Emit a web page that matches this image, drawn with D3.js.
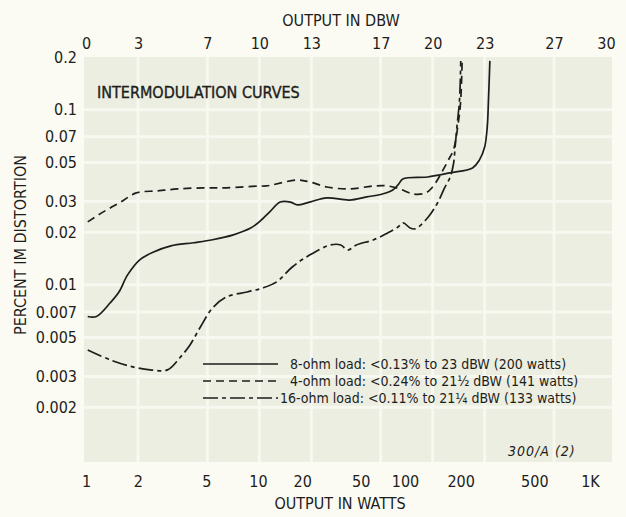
<!DOCTYPE html>
<html>
<head>
<meta charset="utf-8">
<script src="https://cdn.jsdelivr.net/npm/d3@7"></script>
<style>
  body { margin: 0; background: #fbfbf4; }
  svg text { font-family: "Liberation Sans Narrow", "DejaVu Sans Condensed", "Roboto Condensed", sans-serif; fill: #1d1d1b; }
</style>
</head>
<body>
<div id="chart"></div>
<script>
const width = 626;
const height = 517;

// top axis: output in dBW, bottom axis: output in watts
const dbwTicks = [0, 3, 7, 10, 13, 17, 20, 23, 27, 30];
const wattTicks = [1, 2, 5, 10, 20, 50, 100, 200, 500, 1000];
const wattLabels = ["1", "2", "5", "10", "20", "50", "100", "200", "500", "1K"];
const pctTicks = [0.2, 0.1, 0.07, 0.05, 0.03, 0.02, 0.01, 0.007, 0.005, 0.003, 0.002];

// curves: [output dBW, percent IM distortion]
const ohm8 = [[0.1, 0.0066], [0.6, 0.0066], [1.4, 0.0079], [1.9, 0.0091], [2.4, 0.0114], [3.1, 0.0139],
  [3.9, 0.0154], [4.9, 0.0167], [6.2, 0.0174], [7.3, 0.0181], [8.5, 0.0193], [9.5, 0.0211], [10.0, 0.0229],
  [10.6, 0.0261], [11.2, 0.0297], [11.8, 0.0297], [12.2, 0.0286], [12.9, 0.0297], [13.9, 0.0314],
  [15.2, 0.0305], [16.2, 0.0318], [17.1, 0.0330], [17.7, 0.0348], [18.0, 0.0372], [18.3, 0.0403],
  [19.7, 0.0413], [21.0, 0.0436], [22.3, 0.0465], [22.7, 0.0517], [23.0, 0.0613], [23.15, 0.080],
  [23.22, 0.114], [23.3, 0.19]];
const ohm4 = [[0.1, 0.0229], [1.0, 0.0261], [2.0, 0.0297], [2.9, 0.0335], [4.1, 0.0344], [5.3, 0.0353],
  [6.8, 0.0358], [8.1, 0.0358], [10.0, 0.0367], [10.4, 0.0367], [12.2, 0.0397], [12.9, 0.0387],
  [13.9, 0.0362], [15.2, 0.0353], [16.6, 0.0367], [17.4, 0.0367], [18.1, 0.0353], [18.9, 0.0330],
  [19.6, 0.0335], [20.0, 0.0362], [20.6, 0.0453], [21.0, 0.0537], [21.2, 0.0589], [21.5, 0.0874],
  [21.62, 0.114], [21.7, 0.19]];
const ohm16 = [[0.1, 0.00425], [1.4, 0.00373], [2.7, 0.0034], [3.7, 0.00327], [4.7, 0.00327], [5.4, 0.00382],
  [6.0, 0.00454], [6.6, 0.00575], [7.3, 0.00738], [8.1, 0.00853], [9.3, 0.00911], [10.2, 0.0096],
  [11.0, 0.0104], [11.9, 0.01265], [12.9, 0.0148], [14.1, 0.0169], [14.7, 0.0169], [15.1, 0.0158],
  [15.6, 0.0169], [16.6, 0.0181], [17.4, 0.0198], [18.0, 0.0214], [18.3, 0.0226], [18.7, 0.0211],
  [19.0, 0.0209], [19.7, 0.0241], [20.25, 0.0290], [20.7, 0.0360], [21.0, 0.0410], [21.2, 0.0490],
  [21.3, 0.062], [21.4, 0.080], [21.55, 0.114], [21.62, 0.19]];

const series = [
  { name: "8-ohm", data: ohm8, dash: null, label: "8-ohm load: <0.13% to 23 dBW (200 watts)" },
  { name: "4-ohm", data: ohm4, dash: "8,5", label: "4-ohm load: <0.24% to 21½ dBW (141 watts)" },
  { name: "16-ohm", data: ohm16, dash: "15,4,4,4", label: "16-ohm load: <0.11% to 21¼ dBW (133 watts)" }
];

const plot = { left: 84, right: 612, top: 57, bottom: 462 };

const x = d3.scaleLinear().domain([0, 30]).range([86, 606]);
const xw = d3.scaleLog().domain([1, 10, 100, 1000]).range([86, 258, 405, 590]);
const y = d3.scaleLog().domain([0.001, 0.2]).range([460, 57]);

const svg = d3.select("#chart")
  .append("svg")
  .attr("width", width)
  .attr("height", height);

svg.append("rect")
  .attr("x", plot.left).attr("y", plot.top)
  .attr("width", plot.right - plot.left).attr("height", plot.bottom - plot.top)
  .attr("fill", "#eceee1");

// faint graph-paper lines
const grid = svg.append("g").attr("stroke", "#f7f8f0").attr("stroke-width", 3);
grid.selectAll("line.v")
  .data(dbwTicks.slice(1, -1))
  .enter().append("line")
  .attr("x1", (d) => x(d)).attr("x2", (d) => x(d))
  .attr("y1", plot.top).attr("y2", plot.bottom);
grid.selectAll("line.h")
  .data(pctTicks.slice(1))
  .enter().append("line")
  .attr("x1", plot.left).attr("x2", plot.right)
  .attr("y1", (d) => y(d)).attr("y2", (d) => y(d));

// axes (labels only, no domain lines)
const topAxis = svg.append("g")
  .attr("transform", "translate(0,49)")
  .call(d3.axisTop(x).tickValues(dbwTicks).tickSize(0).tickPadding(0).tickFormat(d3.format("d")));
const bottomAxis = svg.append("g")
  .attr("transform", "translate(0,476)")
  .call(d3.axisBottom(xw).tickValues(wattTicks).tickSize(0).tickPadding(0)
    .tickFormat((d, i) => wattLabels[i]));
const leftAxis = svg.append("g")
  .attr("transform", "translate(77,0)")
  .call(d3.axisLeft(y).tickValues(pctTicks).tickSize(0).tickPadding(0).tickFormat((d) => String(d)));
[topAxis, bottomAxis, leftAxis].forEach((g) => {
  g.select(".domain").remove();
  g.selectAll("text").attr("font-size", 16).style("font-family", null);
});
topAxis.selectAll("text").attr("dy", 0);

svg.append("text")
  .attr("x", 341).attr("y", 26)
  .attr("text-anchor", "middle")
  .attr("font-size", 16)
  .text("OUTPUT IN DBW");
svg.append("text")
  .attr("x", 340).attr("y", 509)
  .attr("text-anchor", "middle")
  .attr("font-size", 16)
  .text("OUTPUT IN WATTS");
svg.append("text")
  .attr("transform", "translate(26,245) rotate(-90)")
  .attr("text-anchor", "middle")
  .attr("font-size", 16)
  .text("PERCENT IM DISTORTION");
svg.append("text")
  .attr("x", 97).attr("y", 98)
  .attr("font-size", 16)
  .attr("stroke", "#1d1d1b")
  .attr("stroke-width", 0.35)
  .text("INTERMODULATION CURVES");
svg.append("text")
  .attr("x", 508).attr("y", 456)
  .attr("font-size", 14)
  .attr("letter-spacing", 1)
  .attr("font-style", "italic")
  .text("300/A (2)");

const line = d3.line()
  .x((d) => x(d[0]))
  .y((d) => y(d[1]))
  .curve(d3.curveCatmullRom.alpha(0.5));

svg.append("g")
  .selectAll("path")
  .data(series)
  .enter().append("path")
  .attr("d", (d) => line(d.data))
  .attr("fill", "none")
  .attr("stroke", "#1d1d1b")
  .attr("stroke-width", 1.7)
  .attr("stroke-dasharray", (d) => d.dash);

// legend
const legend = svg.append("g").attr("transform", "translate(203,364)");
const row = legend.selectAll("g")
  .data(series)
  .enter().append("g")
  .attr("transform", (d, i) => "translate(0," + i * 17 + ")");
row.append("line")
  .attr("x1", 0).attr("x2", 75)
  .attr("stroke", "#1d1d1b")
  .attr("stroke-width", 1.6)
  .attr("stroke-dasharray", (d) => d.dash);
row.append("text")
  .attr("x", (d) => d.name === "16-ohm" ? 77 : 87)
  .attr("dy", "0.35em")
  .attr("font-size", 14)
  .text((d) => d.label);
</script>
</body>
</html>
